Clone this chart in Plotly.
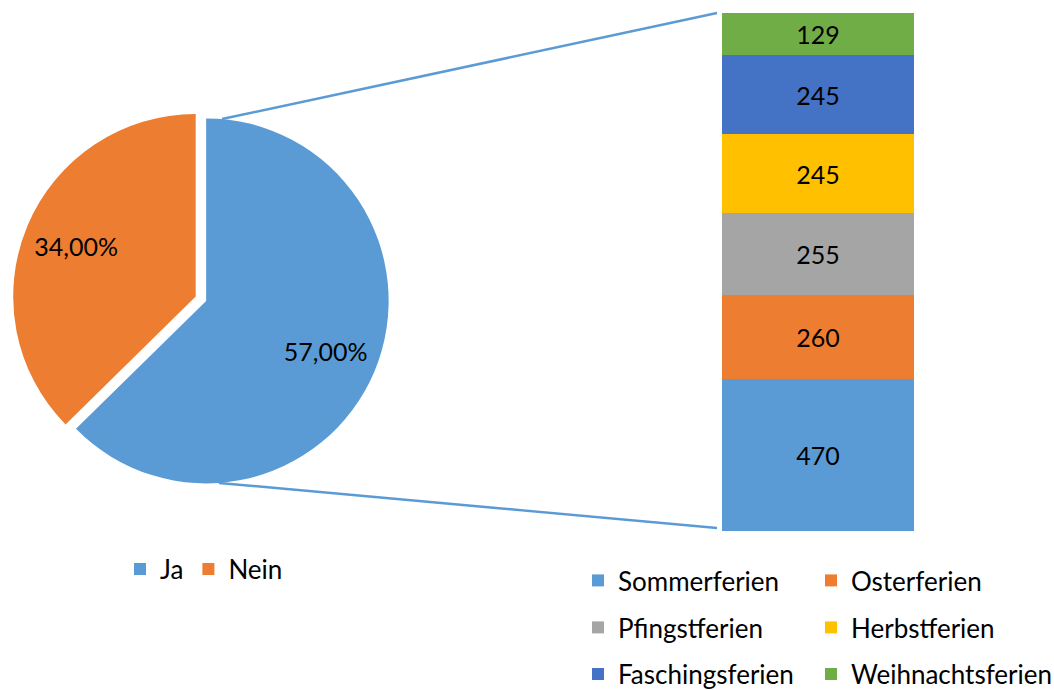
import math
import plotly.graph_objects as go

# ---------------- data ----------------
pie_labels = ["Ja", "Nein"]
pie_values = [0.57, 0.34]
pie_colors = ["#5B9BD5", "#ED7D31"]

bar_categories = ["Sommerferien", "Osterferien", "Pfingstferien",
                  "Herbstferien", "Faschingsferien", "Weihnachtsferien"]
bar_values = [470, 260, 255, 245, 245, 129]
bar_colors = ["#5B9BD5", "#ED7D31", "#A5A5A5", "#FFC000", "#4472C4", "#70AD47"]

# ---------------- layout geometry (pixels) ----------------
W, H = 1054, 690
FONT = "Lato, 'Open Sans', sans-serif"
FS_LABEL = 25
FS_LEGEND = 26
TXT = "#000000"

pie_cx, pie_cy, pie_r = 195.7, 296.5, 182.5
pull_ja = 0.062
bar_x0, bar_x1, bar_y_top, bar_y_bot = 722, 914, 13, 531


def fx(px):
    return px / W


def fy(py):
    return 1 - py / H


box = pie_r * (2 + 2 * pull_ja)
pie_domain = dict(x=[fx(pie_cx - box / 2), fx(pie_cx + box / 2)],
                  y=[fy(pie_cy + box / 2), fy(pie_cy - box / 2)])

fig = go.Figure()

# main pie
fig.add_trace(go.Pie(
    labels=pie_labels, values=pie_values,
    marker=dict(colors=pie_colors, line=dict(width=0)),
    sort=False, direction="clockwise", rotation=0,
    pull=[pull_ja, 0], textinfo="none", domain=pie_domain,
    hoverinfo="label+value", legend="legend", showlegend=True,
))
# label layer (transparent ring, positions the labels further out)
fig.add_trace(go.Pie(
    labels=pie_labels, values=pie_values,
    marker=dict(colors=["rgba(0,0,0,0)"] * len(pie_labels), line=dict(width=0)),
    sort=False, direction="clockwise", rotation=0, hole=0.42,
    pull=[pull_ja, 0], texttemplate="%{value:.2%}", textposition="inside",
    insidetextorientation="horizontal",
    textfont=dict(family=FONT, size=FS_LABEL, color=TXT),
    domain=pie_domain, hoverinfo="none", showlegend=False,
))

legend_ids = ["legend2", "legend2", "legend3", "legend3", "legend4", "legend4"]
legend_widths = [188, 215, 188, 215, 188, 215]
for name, val, col, lg, lw in zip(bar_categories, bar_values, bar_colors,
                                  legend_ids, legend_widths):
    fig.add_trace(go.Bar(
        x=["Ferien"], y=[val], name=name,
        marker=dict(color=col, line=dict(width=0)),
        texttemplate="%{y}", textposition="inside", insidetextanchor="middle",
        textangle=0,
        insidetextfont=dict(family=FONT, size=FS_LABEL, color=TXT),
        legend=lg, legendwidth=lw, showlegend=True,
    ))

# connector lines from the "Ja" slice to the bar
frac_ja = pie_values[0] / sum(pie_values)
mid = math.radians(frac_ja * 360 / 2)
jcx = pie_cx + pull_ja * pie_r * math.sin(mid)
jcy = pie_cy - pull_ja * pie_r * math.cos(mid)
line_col = "#5B9BD5"
shapes = []
for ang, ey in [(5, bar_y_top), (176, bar_y_bot - 3)]:
    a = math.radians(ang)
    sx = jcx + pie_r * math.sin(a)
    sy = jcy - pie_r * math.cos(a)
    shapes.append(dict(type="line", xref="paper", yref="paper",
                       x0=fx(sx), y0=fy(sy), x1=fx(bar_x0 - 5), y1=fy(ey),
                       line=dict(color=line_col, width=2.5), layer="below"))


def leg(x_px, y_px):
    return dict(orientation="h", x=fx(x_px), xanchor="left",
                y=fy(y_px), yanchor="middle", traceorder="normal",
                font=dict(family=FONT, size=FS_LEGEND, color=TXT),
                bgcolor="rgba(0,0,0,0)", borderwidth=0)


fig.update_layout(
    width=W, height=H,
    margin=dict(l=0, r=0, t=0, b=0, autoexpand=False),
    paper_bgcolor="white", plot_bgcolor="rgba(0,0,0,0)",
    barmode="stack", bargap=0, separators=",.",
    font=dict(family=FONT, size=FS_LEGEND, color=TXT),
    xaxis=dict(domain=[fx(bar_x0), fx(bar_x1)], visible=False,
               range=[-0.5, 0.5], showgrid=False),
    yaxis=dict(domain=[fy(bar_y_bot), fy(bar_y_top)], visible=False,
               range=[0, sum(bar_values)], showgrid=False),
    shapes=shapes,
    legend=leg(120, 569),
    legend2=leg(578, 580.5),
    legend3=leg(578, 627.5),
    legend4=leg(578, 674),
    showlegend=True,
)

fig.write_html("out.html", config={"displayModeBar": False},
               post_script="document.body.style.margin='0';")
